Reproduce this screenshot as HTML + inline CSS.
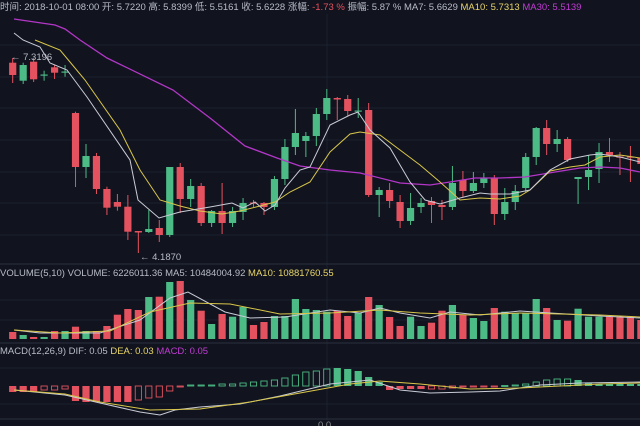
<!DOCTYPE html>
<html><head><meta charset="utf-8"><style>
html,body{margin:0;padding:0;background:#11141e;width:640px;height:426px;overflow:hidden}
svg{display:block}
text{font-family:"Liberation Sans","Noto Sans CJK SC",sans-serif;font-size:9.5px}
</style></head><body>
<svg id="s" width="640" height="426" xmlns="http://www.w3.org/2000/svg">
<rect width="640" height="426" fill="#11141e"/>
<g stroke="#1c2130" stroke-width="1">
<line x1="0" y1="45" x2="640" y2="45"/><line x1="0" y1="77" x2="640" y2="77"/><line x1="0" y1="108" x2="640" y2="108"/><line x1="0" y1="140" x2="640" y2="140"/><line x1="0" y1="172" x2="640" y2="172"/><line x1="0" y1="203" x2="640" y2="203"/><line x1="0" y1="235" x2="640" y2="235"/>
<line x1="0" y1="300" x2="640" y2="300"/><line x1="0" y1="320" x2="640" y2="320"/>
<line x1="0" y1="368" x2="640" y2="368"/><line x1="0" y1="404" x2="640" y2="404"/>
<line x1="327" y1="14" x2="327" y2="420"/>
</g>
<g stroke="#2a2f3d"><line x1="0" y1="264" x2="640" y2="264"/><line x1="0" y1="343" x2="640" y2="343"/><line x1="0" y1="419" x2="640" y2="419"/></g>
<g id="g"></g>
<text x="0" y="10" fill="#b8bcc6">时间: 2018-10-01  08:00  开: 5.7220  高: 5.8399  低: 5.5161  收: 5.6228  涨幅: <tspan fill="#e5525f">-1.73 %</tspan>  振幅: 5.87 %  MA7: 5.6629  <tspan fill="#e8d56a">MA10: 5.7313</tspan>  <tspan fill="#c23bd4">MA30: 5.5139</tspan></text>
<text x="11" y="60" fill="#b8bcc6">← 7.3196</text>
<text x="140" y="260" fill="#b8bcc6">← 4.1870</text>
<text x="0" y="276" fill="#b8bcc6">VOLUME(5,10)  VOLUME: 6226011.36  MA5: 10484004.92  <tspan fill="#e8d56a">MA10: 10881760.55</tspan></text>
<text x="0" y="354" fill="#b8bcc6">MACD(12,26,9)  DIF: 0.05  <tspan fill="#e8d56a">DEA: 0.03</tspan>  <tspan fill="#c23bd4">MACD: 0.05</tspan></text>
<text x="318" y="428" fill="#888">0.0</text>
</svg>
<script>
var R="#e5525f",G="#4cbb85";
var C=[[62.7,75,58,83,R],[65,80.7,62.7,84,G],[61.7,79.3,58,82,R],[74.5,75.5,70.7,80.7,G],[67.3,72.7,65,79,R],[71.5,72.5,65,76.7,G],
[113,167,111.7,187,R],[156,167,144,178,G],[156,189,153,194,R],[189,207.7,186.7,215,R],[202,206.7,194,210.7,R],[206.7,231.7,195,240,R],
[231,232.5,231,253,R],[229,232,210,233,G],[228,235,220,242,R],[167,235,167,237,G],[167,199,163,213,R],[186,199,179,207,G],
[186,223,183,226,R],[211,223,210,227,G],[211,223,183,234,R],[211,223,207,227,G],[203,212,198,220,G],[202.5,203.5,200,207,R],
[203,207,202,215,R],[179,207,176,210,G],[147,179,139,185,G],[133,147,109,155,G],[136,141,132,157,G],[114,136,108,146,G],
[98,114,89,120,G],[98,99.5,97,120,R],[99,111,95,116,R],[110.5,111.5,98,118,G],[110,195,103,197,R],[190,195,187,217,G],
[190,201,183,208,R],[202,221,195,228,R],[208,221,193,225,G],[203,207,198,213,G],[201,205,197,223,R],[205,207,200,220,R],
[183,207,166,210,G],[180,191,171,197,R],[183,191,172,193,G],[178,183,173,188,G],[178,214,175,225,R],[202,214,188,220,G],
[191,202,185,210,G],[157,188,153,192,G],[128,157,127,165,G],[128,144,120,155,R],[139,144,130,152,G],[139,160,137,162,R],
[177,179,177,204,G],[170,177,155,190,G],[152,169,143,183,G],[152,155,138,162,R],[156.5,157.5,152,175,R],[156.5,157.5,146,182,R],[158,164,150,170,R]];
var V=[332,335,337,337,331,331,326.7,331,331,326,314.7,309,310,297,296.7,282,281,300,310.7,324,314,316.7,307,325,322,316,316,299,309,310,311.7,310.7,316,313,297,305,317,326,316.7,326,322.7,310.7,305,315,318,321,308,311.7,313,313,299,308,320,320.7,308.7,316.7,316.7,316.7,317,316.7,320];
var M=[[6,1],[6,1],[6,1],[4,0],[4,0],[3,0],[15,1],[16,1],[16,1],[16,1],[16,1],[16,1],[14,0],[12,0],[11,0],[5,0],[1,0],
[-1,0],[-1,0],[-1,0],[-2,0],[-2,0],[-3,0],[-4,0],[-5,0],[-6,0],[-8,0],[-11,0],[-14,0],[-15,0],[-17,0],[-18,1],[-17,1],[-15,1],[-9,1],[-4,1],
[4,1],[3,1],[3,1],[3,1],[3,0],[3,0],[2,0],[1,0],[1,0],[0.5,0],[1,0],[-0.5,0],[-1,0],[-2,0],[-4,0],[-6,0],[-7,0],[-7,0],[-6,1],[-3,1],[-2,1],[-2,1],[-2,1],[-2,1],[-2,1]];
var h="";
function X(i){return 12.7+10.47*i;}
C.forEach(function(c,i){var x=X(i);
h+='<line x1="'+x+'" y1="'+c[2]+'" x2="'+x+'" y2="'+c[3]+'" stroke="'+c[4]+'" stroke-width="1"/>';
var hh=Math.max(1.2,c[1]-c[0]);h+='<rect x="'+(x-3.6)+'" y="'+c[0]+'" width="7.2" height="'+hh+'" fill="'+c[4]+'"/>';
h+='<rect x="'+(x-3.6)+'" y="'+V[i]+'" width="7.2" height="'+(339-V[i])+'" fill="'+c[4]+'"/>';
var m=M[i],col=m[0]>0?R:G,y0=Math.min(386,386+m[0]),mh=Math.max(1,Math.abs(m[0]));
if(m[1])h+='<rect x="'+(x-3.6)+'" y="'+y0+'" width="7.2" height="'+mh+'" fill="'+col+'"/>';
else h+='<rect x="'+(x-3.1)+'" y="'+y0+'" width="6.2" height="'+mh+'" fill="none" stroke="'+col+'" stroke-width="0.9"/>';
});
function L(p,c,w){h+='<polyline fill="none" stroke="'+c+'" stroke-width="'+(w||1)+'" points="'+p+'"/>';}
L("14,19 55,25 65,29 80,40 107,58 173,90 210,118 245,146 277,158 300,166 330,170 360,173 400,183 430,185 450,182 475,178 500,178 525,177 555,172 580,168 600,167 620,168 640,172","#b336c8",1.3);
L("35,40 60,50 70,62 85,80 120,130 140,170 160,200 180,206 200,211 222,214 240,211 260,206 275,202 290,192 310,182 330,152 350,134 360,132 380,135 400,150 420,165 440,182 460,200 480,198 500,199 520,196 530,190 550,171 570,167 585,165 600,157 620,155 640,158","#d9c64a");
L("14,33 23,40 40,47 50,63 67,70 87,97 130,160 138,200 159,218 180,212 210,207 232,203 243,208 255,202 265,211 275,205 285,188 300,170 310,167 330,125 350,115 358,112 370,130 390,148 410,182 425,200 440,204 460,198 480,193 490,194 510,194 530,190 550,170 570,159 590,155 600,154 620,157 640,162","#c9ccd6");
L("14,330 40,333 100,333 140,320 170,298 188,292 225,312 250,318 285,317 330,310 360,313 380,308 400,313 430,318 450,312 480,315 520,311 550,313 600,316 640,318","#c9ccd6");
L("14,330 60,333 110,331 150,312 190,303 230,304 280,314 330,313 380,310 420,313 470,315 520,313 560,314 600,315 640,317","#d9c64a");
L("14,390 65,395 100,403 140,412 160,415 175,410 200,407 240,404 280,396 330,384 370,380 400,390 430,393 470,392 500,391 540,385 580,383 640,382","#c9ccd6");
L("14,390 65,394 100,402 150,410 200,409 250,402 300,393 350,384 380,381 420,384 470,389 520,388 560,386 600,384 640,383","#d9c64a");
document.getElementById("g").innerHTML=h;
</script>
</body></html>
